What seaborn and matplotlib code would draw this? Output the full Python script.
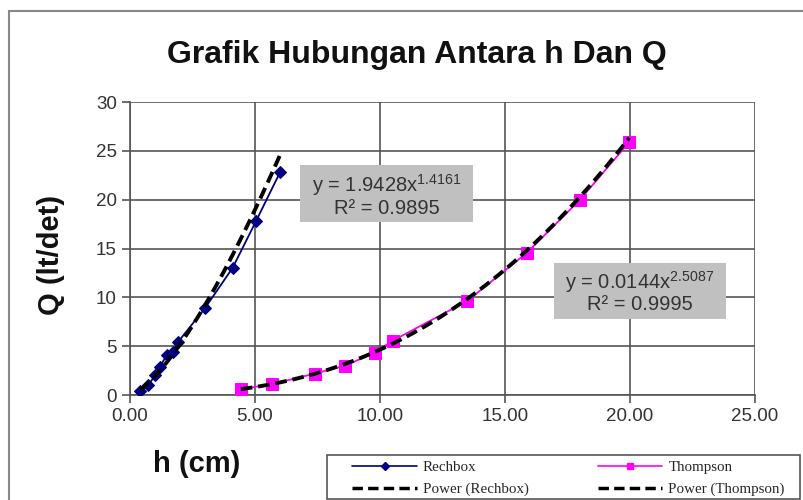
import numpy as np
import pandas as pd
import matplotlib
matplotlib.use('Agg')
import matplotlib.pyplot as plt
import seaborn as sns
from matplotlib.lines import Line2D
from matplotlib.patches import Rectangle

# Data
h_rechbox = [0.4, 0.73, 1.0, 1.2, 1.47, 1.7, 1.93, 3.0, 4.1, 5.04, 6.0]
q_rechbox = [0.4, 1.0, 2.0, 2.9, 4.1, 4.4, 5.45, 8.9, 13.0, 17.8, 22.8]
h_thompson = [4.43, 5.67, 7.4, 8.6, 9.8, 10.5, 13.47, 15.87, 18.0, 19.97]
q_thompson = [0.6, 1.1, 2.2, 3.0, 4.35, 5.55, 9.6, 14.55, 20.0, 25.9]

# power trendline coefficients shown on the chart
a_rech, b_rech, r2_rech = 1.9428, 1.4161, 0.9895
a_thom, b_thom, r2_thom = 0.0144, 2.5087, 0.9995

df_r = pd.DataFrame({'h': h_rechbox, 'Q': q_rechbox})
df_t = pd.DataFrame({'h': h_thompson, 'Q': q_thompson})

sns.set_style('white')
plt.rcParams['font.family'] = ['Liberation Sans', 'DejaVu Sans']
plt.rcParams['mathtext.fontset'] = 'custom'
plt.rcParams['mathtext.rm'] = 'Liberation Sans'
plt.rcParams['mathtext.it'] = 'Liberation Sans'
plt.rcParams['mathtext.default'] = 'rm'

fig = plt.figure(figsize=(8.04, 5.0), dpi=100)
ax = fig.add_axes([0.1617, 0.21, 0.7774, 0.586])

# trendlines
xr = np.linspace(min(h_rechbox), max(h_rechbox), 100)
xt = np.linspace(min(h_thompson), max(h_thompson), 100)

sns.lineplot(data=df_r, x='h', y='Q', ax=ax, color='#000080', lw=1.3,
             marker='D', markersize=6.5, markeredgecolor='#000080', zorder=3)
sns.lineplot(data=df_t, x='h', y='Q', ax=ax, color='#FF00FF', lw=1.3,
             marker='s', markersize=8, markeredgecolor='#FF00FF', zorder=3)
ax.plot(xr, a_rech * xr ** b_rech, color='black', lw=2.8, ls=(0, (3, 1.5)), zorder=4)
ax.plot(xt, a_thom * xt ** b_thom, color='black', lw=2.8, ls=(0, (3, 1.5)), zorder=4)

ax.set_xlim(0, 25)
ax.set_ylim(0, 30)
ax.set_xticks(np.arange(0, 26, 5))
ax.set_xticklabels([f'{v:.2f}' for v in np.arange(0, 26, 5)])
ax.set_yticks(np.arange(0, 31, 5))
ax.grid(True, color='#555555', lw=1.2)
ax.set_axisbelow(True)
for s in ['top', 'right']:
    ax.spines[s].set_visible(False)
for s in ['left', 'bottom']:
    ax.spines[s].set_color('#555555')
    ax.spines[s].set_linewidth(1.2)
ax.tick_params(axis='both', direction='out', length=6, width=1.2, color='#555555',
               labelsize=13.5, labelcolor='#333333', left=True, bottom=True)
ax.set_xlabel('')
ax.set_ylabel('')

fig.text(0.518, 0.89, 'Grafik Hubungan Antara h Dan Q', ha='center', va='center',
         fontsize=23, fontweight='bold', color='#111111')
fig.text(0.064, 0.49, 'Q (lt/det)', ha='center', va='center', rotation=90,
         fontsize=21, fontweight='bold', color='#111111')
fig.text(0.245, 0.071, 'h (cm)', ha='center', va='center',
         fontsize=21, fontweight='bold', color='#111111')

# equation boxes
ax.add_patch(Rectangle((6.8, 17.69), 6.92, 5.83, fc='#C0C0C0', ec='none', zorder=5))
ax.add_patch(Rectangle((16.96, 7.77), 6.88, 5.73, fc='#C0C0C0', ec='none', zorder=5))
ax.text(10.26, 20.5, f'y = {a_rech}x$^{{{b_rech}}}$\nR² = {r2_rech}', ha='center', va='center',
        fontsize=14.5, color='#333333', linespacing=1.05, zorder=6)
ax.text(20.4, 10.6, f'y = {a_thom}x$^{{{b_thom}}}$\nR² = {r2_thom}', ha='center', va='center',
        fontsize=14.5, color='#333333', linespacing=1.05, zorder=6)

# outer chart border
fig.patches.append(Rectangle((0.011, -0.1), 1.1, 1.078, transform=fig.transFigure,
                             fill=False, ec='#888888', lw=1.5))

# legend frame
fig.patches.append(Rectangle((327 / 804, 0.002), 473 / 804, 0.088, transform=fig.transFigure,
                             fill=True, fc='white', ec='#555555', lw=1.2))

handles = [
    Line2D([], [], color='#000080', marker='D', markersize=4, lw=1.2),
    Line2D([], [], color='black', lw=2.5, ls=(0, (3, 1.5))),
    Line2D([], [], color='#FF00FF', marker='s', markersize=5, lw=1.2),
    Line2D([], [], color='black', lw=2.5, ls=(0, (3, 1.5))),
]
labels = ['Rechbox', 'Power (Rechbox)', 'Thompson', 'Power (Thompson)']
leg = fig.legend(handles, labels, ncol=2, loc='center left',
                 bbox_to_anchor=(345 / 804, 0.043),
                 frameon=False, handlelength=4.3, handletextpad=0.4,
                 borderpad=0.0, labelspacing=0.55, columnspacing=4.6,
                 prop={'family': 'Liberation Serif', 'size': 10.8})

fig.savefig('out.png', dpi=100)
